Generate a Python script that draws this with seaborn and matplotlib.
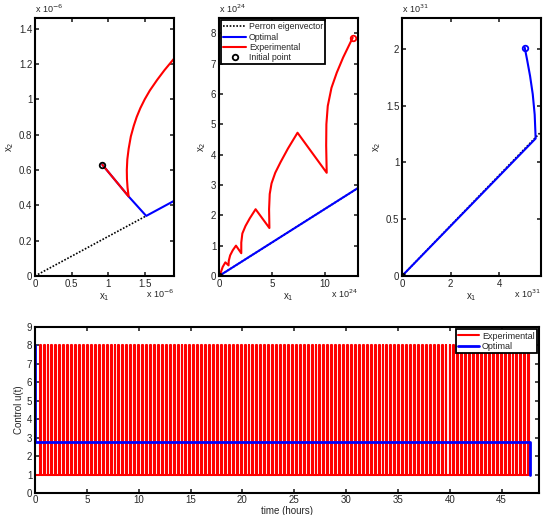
import numpy as np
import pandas as pd
import seaborn as sns
import matplotlib.pyplot as plt

# ---- panel 1 (units of 1e-6) ----
p1_perron_x = [0.0, 1.52]
p1_perron_y = [0.0, 0.34]
p1_opt_x = [0.92, 1.28, 1.52, 1.90]
p1_opt_y = [0.63, 0.45, 0.34, 0.425]
p1_exp_x = [0.92, 1.28, 1.265, 1.257, 1.255, 1.262, 1.28, 1.31, 1.35, 1.39, 1.44,
            1.50, 1.57, 1.67, 1.77, 1.87, 1.90]
p1_exp_y = [0.63, 0.45, 0.50, 0.55, 0.60, 0.66, 0.72, 0.79, 0.85, 0.90, 0.95,
            1.00, 1.05, 1.11, 1.165, 1.215, 1.23]
p1_init = (0.92, 0.63)

# ---- panel 2 (units of 1e24) ----
p2_perron_x = [0.0, 13.1]
p2_perron_y = [0.0, 2.90]
p2_opt_x = [0.0, 13.1]
p2_opt_y = [0.0, 2.90]
p2_exp_x = [0.0, 0.15, 0.35, 0.6, 0.9, 0.92, 1.05, 1.3, 1.6, 2.1, 2.1, 2.2, 2.5, 2.9, 3.45,
            4.75, 4.72, 4.78, 4.95, 5.3, 5.8, 6.5, 7.4, 10.15, 10.1, 10.12, 10.25, 10.6,
            11.1, 11.7, 12.6]
p2_exp_y = [0.0, 0.10, 0.30, 0.45, 0.35, 0.50, 0.68, 0.85, 1.00, 0.75, 1.10, 1.40, 1.65,
            1.90, 2.20, 1.58, 2.20, 2.70, 3.05, 3.40, 3.75, 4.20, 4.72, 3.40, 4.30, 5.00,
            5.60, 6.20, 6.70, 7.20, 7.85]
p2_init = (0.0, 0.0)

# ---- panel 3 (units of 1e31) ----
p3_perron_x = [0.0, 5.68]
p3_perron_y = [0.0, 1.26]
p3_opt_x = [0.0, 5.5, 5.46, 5.38, 5.27, 5.15, 5.05]
p3_opt_y = [0.0, 1.21, 1.42, 1.60, 1.76, 1.90, 2.01]
p3_init = (0.0, 0.0)

# ---- control signal ----
u_low, u_high = 1.0, 8.0
u_opt = 2.75
pulse_start = 0.45
pulse_period = 0.38
pulse_width = 0.09
n_pulses = 125
t_end = 47.7

RED = "#ff0000"
BLUE = "#0000ff"

sns.set_style("ticks")
plt.rcParams["font.family"] = ["Liberation Sans", "DejaVu Sans"]
plt.rcParams.update({
    "xtick.direction": "in", "ytick.direction": "in",
    "xtick.top": True, "ytick.right": True,
    "xtick.major.size": 3, "ytick.major.size": 3,
    "xtick.major.width": 1.2, "ytick.major.width": 1.2,
    "axes.linewidth": 1.5, "axes.edgecolor": "black",
    "font.size": 7, "xtick.labelsize": 7, "ytick.labelsize": 7,
    "axes.labelsize": 7, "xtick.major.pad": 2, "ytick.major.pad": 2,
})


def traj(ax, x, y, color, **kw):
    df = pd.DataFrame({"x": x, "y": y})
    sns.lineplot(data=df, x="x", y="y", sort=False, estimator=None, ax=ax,
                 color=color, **kw)


def style_top(ax, xlim, ylim, xticks, yticks, xexp, yexp):
    ax.set_xlim(*xlim)
    ax.set_ylim(*ylim)
    ax.set_xticks(xticks)
    ax.set_yticks(yticks)
    ax.set_xticklabels([f"{v:g}" for v in xticks])
    ax.set_yticklabels([f"{v:g}" for v in yticks])
    ax.set_xlabel("x$_1$", labelpad=1.5)
    ax.set_ylabel("x$_2$", labelpad=2)
    ax.text(0.0, 1.01, f"x 10$^{{{yexp}}}$", transform=ax.transAxes, fontsize=6.5,
            ha="left", va="bottom")
    ax.text(1.0, -0.045, f"x 10$^{{{xexp}}}$", transform=ax.transAxes, fontsize=6.5,
            ha="right", va="top")


def box_legend(ax, loc, fs, hl):
    leg = ax.legend(loc=loc, fontsize=fs, frameon=True, fancybox=False,
                    borderpad=0.25, labelspacing=0.15, handlelength=hl,
                    handletextpad=0.3, borderaxespad=0.25)
    leg.get_frame().set_edgecolor("black")
    leg.get_frame().set_linewidth(1.3)
    leg.get_frame().set_alpha(1)
    return leg


fig = plt.figure(figsize=(5.43, 5.15), dpi=100)
W, H = 543, 515


def add_axes(x0, x1, y0, y1):
    return fig.add_axes([x0 / W, 1 - y1 / H, (x1 - x0) / W, (y1 - y0) / H])


ax1 = add_axes(35, 174, 18, 276)
ax2 = add_axes(219, 358, 18, 276)
ax3 = add_axes(402, 541, 18, 276)
ax4 = add_axes(35, 539, 327, 493)

lw = 1.5
dot = dict(linestyle=(0, (1, 1)), linewidth=1.2)

# panel 1
traj(ax1, p1_perron_x, p1_perron_y, "black", **dot)
traj(ax1, p1_opt_x, p1_opt_y, BLUE, linewidth=lw)
traj(ax1, p1_exp_x, p1_exp_y, RED, linewidth=lw)
ax1.plot(*p1_init, "o", mfc="none", mec="black", mew=1.3, ms=4)
style_top(ax1, (0, 1.9), (0, 1.46), [0, 0.5, 1, 1.5],
          [0, 0.2, 0.4, 0.6, 0.8, 1, 1.2, 1.4], -6, -6)

# panel 2
traj(ax2, p2_perron_x, p2_perron_y, "black", label="Perron eigenvector", **dot)
traj(ax2, p2_opt_x, p2_opt_y, BLUE, linewidth=lw, label="Optimal")
traj(ax2, p2_exp_x, p2_exp_y, RED, linewidth=lw, label="Experimental")
ax2.plot(p2_exp_x[-1], p2_exp_y[-1], "o", mfc="none", mec=RED, mew=1.3, ms=4)
ax2.plot(*p2_init, "o", mfc="none", mec="black", mew=1.3, ms=4, linestyle="none",
         label="Initial point")
style_top(ax2, (0, 13.1), (0, 8.5), [0, 5, 10], list(range(0, 9)), 24, 24)
box_legend(ax2, "upper left", 6.3, 2.6)

# panel 3
traj(ax3, p3_perron_x, p3_perron_y, "black", **dot)
traj(ax3, p3_opt_x, p3_opt_y, BLUE, linewidth=lw)
ax3.plot(p3_opt_x[-1], p3_opt_y[-1], "o", mfc="none", mec=BLUE, mew=1.3, ms=4)
ax3.plot(*p3_init, "o", mfc="none", mec="black", mew=1.3, ms=4)
style_top(ax3, (0, 5.72), (0, 2.27), [0, 2, 4], [0, 0.5, 1, 1.5, 2], 31, 31)

# control panel
t_on = pulse_start + pulse_period * np.arange(n_pulses)
t_exp = [0.0]
u_exp = [u_low]
for t in t_on:
    t_exp += [t, t, t + pulse_width, t + pulse_width]
    u_exp += [u_low, u_high, u_high, u_low]
t_exp.append(t_end)
u_exp.append(u_low)
t_opt = [0.0, 0.0, t_end, t_end]
u_opt_s = [u_high, u_opt, u_opt, u_low]

traj(ax4, t_exp, u_exp, RED, linewidth=lw, label="Experimental")
traj(ax4, t_opt, u_opt_s, BLUE, linewidth=2.0, label="Optimal")
ax4.set_xlim(0, 48.6)
ax4.set_ylim(0, 9)
ax4.set_xticks(range(0, 46, 5))
ax4.set_yticks(range(0, 10))
ax4.tick_params(axis="x", pad=1.5)
ax4.set_xlabel("time (hours)", labelpad=0.5)
ax4.set_ylabel("Control u(t)", labelpad=2)
box_legend(ax4, "upper right", 6.5, 2.3)

fig.savefig("out.png", dpi=100)
